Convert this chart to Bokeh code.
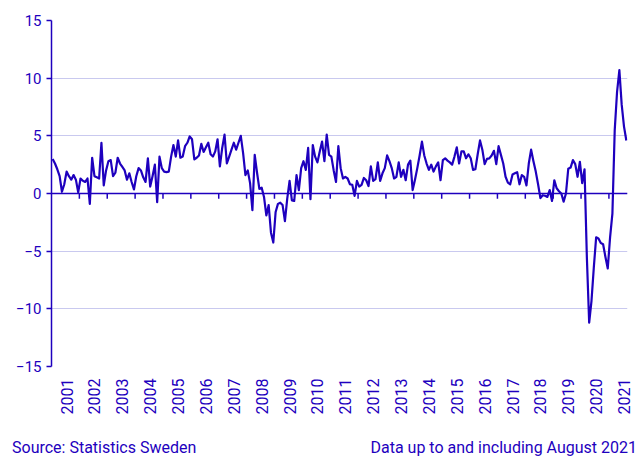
from bokeh.plotting import figure
from bokeh.models import Range1d, FixedTicker, Span, Div
from bokeh.layouts import column
from bokeh.embed import file_html
from bokeh.resources import INLINE
from math import pi

years = [str(y) for y in range(2001, 2022)]
y2001 = [3.0, 2.6, 2.1, 1.5, 0.15, 0.8, 1.9, 1.5, 1.2, 1.6, 1.2, 0.1]
y2002 = [1.3, 1.1, 1.0, 1.3, -0.9, 3.1, 1.5, 1.4, 1.3, 4.4, 0.7, 2.0]
y2003 = [2.8, 2.9, 1.5, 1.8, 3.1, 2.6, 2.3, 2.0, 1.2, 1.75, 1.0, 0.35]
y2004 = [1.5, 2.2, 2.0, 1.4, 1.0, 3.05, 0.6, 1.5, 2.5, -0.75, 3.2, 2.2]
y2005 = [1.9, 1.85, 1.9, 3.2, 4.2, 3.2, 4.6, 3.1, 3.2, 4.1, 4.4, 4.95]
y2006 = [4.7, 2.95, 3.1, 3.3, 4.3, 3.6, 4.0, 4.4, 3.4, 3.2, 3.65, 4.7]
y2007 = [2.35, 3.95, 5.1, 2.6, 3.2, 3.8, 4.4, 3.8, 4.4, 5.0, 3.5, 1.6]
y2008 = [2.0, 0.9, -1.45, 3.35, 1.8, 0.4, 0.5, -0.3, -1.9, -1.0, -3.4, -4.25]
y2009 = [-1.6, -0.9, -0.8, -1.0, -2.4, -0.45, 1.1, -0.6, -0.65, 1.6, 0.3, 2.2]
y2010 = [2.8, 2.05, 3.95, -0.5, 4.2, 3.2, 2.7, 3.65, 4.5, 2.8, 5.1, 3.35]
y2011 = [3.2, 2.0, 1.0, 4.1, 2.2, 1.3, 1.45, 1.3, 0.8, 0.75, -0.2, 1.1]
y2012 = [0.6, 0.75, 1.35, 1.15, 0.65, 2.35, 1.1, 1.25, 2.7, 1.1, 1.75, 2.2]
y2013 = [3.3, 2.8, 2.2, 1.3, 1.45, 2.7, 1.45, 2.05, 1.15, 2.5, 2.85, 0.3]
y2014 = [1.2, 2.2, 3.3, 4.5, 3.3, 2.6, 2.05, 2.5, 1.9, 2.35, 2.7, 1.15]
y2015 = [2.9, 3.05, 2.85, 2.7, 2.5, 3.2, 4.0, 2.6, 3.65, 3.65, 3.05, 3.4]
y2016 = [3.05, 2.05, 2.1, 3.4, 4.6, 3.8, 2.55, 3.0, 3.05, 3.3, 3.7, 2.55]
y2017 = [4.1, 3.35, 2.6, 1.45, 0.95, 0.8, 1.65, 1.75, 1.85, 0.8, 1.6, 1.45]
y2018 = [0.7, 2.6, 3.8, 2.8, 1.9, 0.8, -0.4, -0.15, -0.2, -0.3, 0.3, -0.65]
y2019 = [1.15, 0.45, 0.2, 0.0, -0.7, 0.0, 2.15, 2.25, 2.9, 2.55, 1.45, 2.75]
y2020 = [0.9, 2.1, -5.5, -11.2, -9.3, -6.4, -3.8, -3.9, -4.3, -4.4, -5.5, -6.5]
y2021 = [-3.8, -1.75, 5.5, 8.8, 10.7, 7.7, 5.8, 4.6]
y_ticks = [-15, -10, -5, 0, 5, 10, 15]
source_text = "Source: Statistics Sweden"
note_text = "Data up to and including August 2021"

series = (y2001 + y2002 + y2003 + y2004 + y2005 + y2006 + y2007 + y2008 + y2009
          + y2010 + y2011 + y2012 + y2013 + y2014 + y2015 + y2016 + y2017 + y2018
          + y2019 + y2020 + y2021)
months = list(range(len(series)))

BLUE = "#1e00be"
GRID = "#c9c9ef"
FONT = "Roboto"

p = figure(width=643, height=432, output_backend="svg", toolbar_location=None,
           x_range=Range1d(-0.5, len(series) - 0.5), y_range=Range1d(-15, 15),
           min_border_left=51, min_border_right=16, min_border_top=20, min_border_bottom=66)
p.outline_line_color = None
p.background_fill_color = "white"
p.border_fill_color = "white"

p.xgrid.visible = False
p.ygrid.ticker = FixedTicker(ticks=y_ticks)
p.ygrid.grid_line_color = GRID
p.ygrid.grid_line_width = 1

yax = p.yaxis[0]
yax.ticker = FixedTicker(ticks=y_ticks)
yax.axis_line_color = BLUE
yax.axis_line_width = 1.5
yax.major_tick_line_color = BLUE
yax.major_tick_line_width = 1.5
yax.major_tick_out = 5
yax.major_tick_in = 0
yax.minor_tick_line_color = None
yax.major_label_text_color = BLUE
yax.major_label_text_font = FONT
yax.major_label_text_font_size = "15px"
yax.major_label_standoff = 5

label_pos = [12 * k + 6 for k in range(len(years))]
xax = p.xaxis[0]
xax.ticker = FixedTicker(ticks=label_pos)
xax.major_label_overrides = {pos: yr for pos, yr in zip(label_pos, years)}
xax.major_label_orientation = pi / 2
xax.axis_line_color = None
xax.major_tick_line_color = None
xax.minor_tick_line_color = None
xax.major_label_text_color = BLUE
xax.major_label_text_font = FONT
xax.major_label_text_font_size = "16px"
xax.major_label_standoff = 6

p.add_layout(Span(location=0, dimension="width", line_color=BLUE, line_width=1.5))
bounds = [12 * k - 0.5 for k in range(1, len(years))]
p.segment(x0=bounds, y0=[0] * len(bounds), x1=bounds, y1=[-0.45] * len(bounds),
          line_color=BLUE, line_width=1.5)

p.line(months, series, line_color=BLUE, line_width=2.2, line_join="round")

footer = Div(
    text=(f'<div style="position:relative;width:643px;height:27px;'
          f'font-family:Roboto;font-size:16px;color:{BLUE};white-space:nowrap;">'
          f'<span style="position:absolute;left:12px;top:5px;">{source_text}</span>'
          f'<span style="position:absolute;right:6px;top:5px;">{note_text}</span></div>'),
    width=643, height=27, margin=0)

layout = column(p, footer, spacing=0)
open("out.html", "w").write(file_html(layout, INLINE))
